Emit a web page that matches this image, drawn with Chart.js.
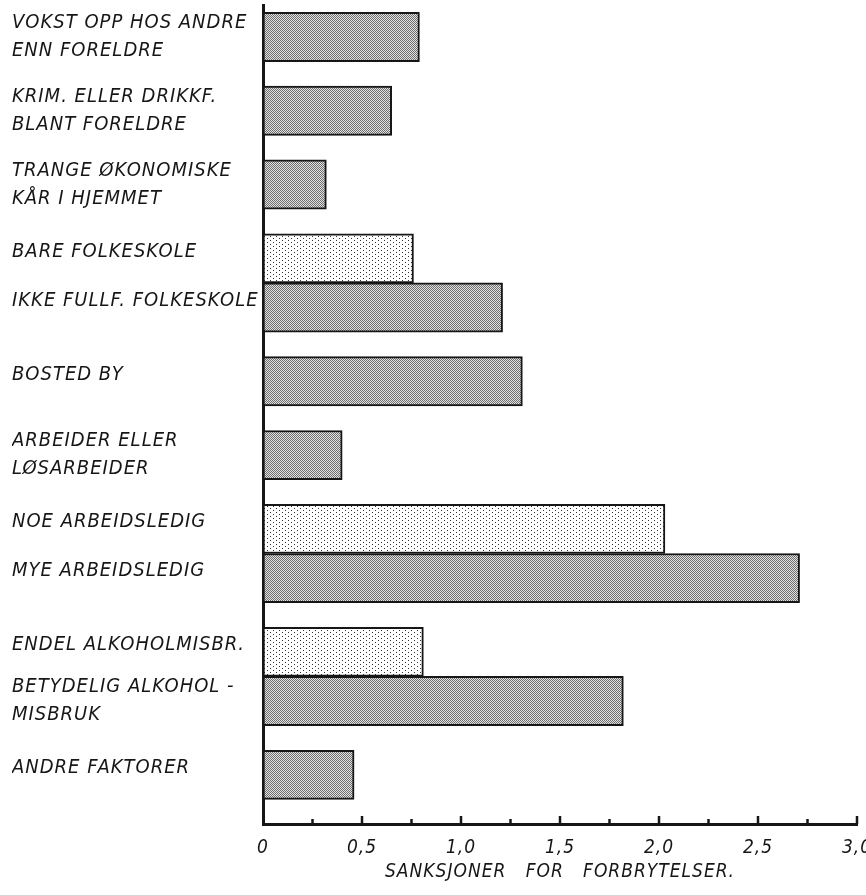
<!DOCTYPE html>
<html>
<head>
<meta charset="utf-8">
<script src="https://cdn.jsdelivr.net/npm/chart.js@4/dist/chart.umd.min.js"></script>
<style>
  html, body { margin: 0; padding: 0; background: #fff; }
  #wrap { width: 866px; height: 895px; }
</style>
</head>
<body>
<div id="wrap"><canvas id="sanksjonChart"></canvas></div>
<script>
// faktorer (\n = linjeskift i etiketten)
var factorLabels = [
    "VOKST OPP HOS ANDRE\nENN FORELDRE",
    "KRIM. ELLER DRIKKF.\nBLANT FORELDRE",
    "TRANGE ØKONOMISKE\nKÅR I HJEMMET",
    "BARE FOLKESKOLE",
    "IKKE FULLF. FOLKESKOLE",
    "BOSTED BY",
    "ARBEIDER ELLER\nLØSARBEIDER",
    "NOE ARBEIDSLEDIG",
    "MYE ARBEIDSLEDIG",
    "ENDEL ALKOHOLMISBR.",
    "BETYDELIG ALKOHOL -\nMISBRUK",
    "ANDRE FAKTORER"
];
// faktorer med to nivåer har samme gruppe
var factorGroup = [1, 2, 3, 4, 4, 5, 6, 7, 7, 8, 8, 9];
var sanctions = [0.79, 0.65, 0.32, 0.76, 1.21, 1.31, 0.40, 2.03, 2.71, 0.81, 1.82, 0.46];
var xTicks = [0, 0.5, 1.0, 1.5, 2.0, 2.5, 3.0];
var axisTitle = "SANKSJONER   FOR   FORBRYTELSER.";

var ink = '#161616';
var font = '"DejaVu Sans Condensed", "DejaVu Sans", sans-serif';

// plassering på y-aksen: to halve enheter per stolpe, en ekstra mellom grupper
var barPos = [];
var p = 0;
for (i = 0; i < factorGroup.length; i++) {
    if (i > 0)
        p += (factorGroup[i] === factorGroup[i - 1]) ? 2 : 3;
    barPos.push(p);
}

var canvas = document.getElementById("sanksjonChart");
var ctx = canvas.getContext('2d');

// raster for stolpene
function makePattern(w, h, bg, fg, dots) {
    var c = document.createElement('canvas');
    c.width = w;
    c.height = h;
    var g = c.getContext('2d');
    g.fillStyle = bg;
    g.fillRect(0, 0, w, h);
    g.fillStyle = fg;
    dots.forEach(function (d) { g.fillRect(d[0], d[1], 1, 1); });
    return ctx.createPattern(c, 'repeat');
}
var darkFill = makePattern(2, 2, '#e2e2e2', '#6e6e6e', [[0, 0], [1, 1]]);
var dotFill = makePattern(6, 4, '#ffffff', '#333333', [[0, 0], [3, 2]]);

var isFirstOfPair = function (i) { return factorGroup[i + 1] === factorGroup[i]; };

var upTicks = {
    id: 'upTicks',
    afterDraw: function (chart) {
        var xs = chart.scales.x;
        var c = chart.ctx;
        var y0 = chart.chartArea.bottom;
        c.save();
        c.strokeStyle = ink;
        c.lineWidth = 2.5;
        xs.ticks.forEach(function (t) {
            if (t.value === 0) return;
            var x = xs.getPixelForValue(t.value);
            var len = xTicks.indexOf(t.value) >= 0 ? 8 : 5;
            c.beginPath();
            c.moveTo(x, y0);
            c.lineTo(x, y0 - len);
            c.stroke();
        });
        c.restore();
    }
};

var spacing = {
    id: 'spacing',
    beforeDraw: function (chart) { chart.ctx.letterSpacing = '1px'; }
};

var sanksjonChart = new Chart(ctx, {
    type: 'bar',
    data: {
        datasets: [{
            data: sanctions.map(function (v, i) { return { x: v, y: barPos[i] }; }),
            backgroundColor: factorGroup.map(function (g, i) { return isFirstOfPair(i) ? dotFill : darkFill; }),
            borderColor: ink,
            borderWidth: 2,
            borderSkipped: false,
            barPercentage: 1,
            categoryPercentage: 1
        }]
    },
    options: {
        indexAxis: 'y',
        responsive: true,
        maintainAspectRatio: false,
        animation: false,
        events: [],
        layout: { padding: { left: 12, right: 9, top: 5, bottom: 0 } },
        plugins: {
            legend: { display: false },
            tooltip: { enabled: false }
        },
        scales: {
            x: {
                type: 'linear',
                min: 0,
                max: 3,
                grid: { display: false },
                border: { display: true, color: ink, width: 3 },
                ticks: {
                    stepSize: 0.25,
                    autoSkip: false,
                    maxRotation: 0,
                    padding: 5,
                    color: ink,
                    font: { family: font, style: 'italic', size: 19 },
                    callback: function (v) {
                        if (xTicks.indexOf(v) < 0) return '';
                        return v === 0 ? '0' : v.toFixed(1).replace('.', ',');
                    }
                },
                title: {
                    display: true,
                    text: axisTitle,
                    color: ink,
                    font: { family: font, style: 'italic', size: 19 },
                    padding: { top: 0, bottom: 12 }
                },
                afterFit: function (scale) {
                    scale.height = 71;
                    scale.paddingLeft = 0;
                    scale.paddingRight = 0;
                }
            },
            y: {
                type: 'linear',
                reverse: true,
                offset: false,
                min: -1.3,
                max: 32,
                grid: { display: false },
                border: { display: true, color: ink, width: 3 },
                afterBuildTicks: function (scale) {
                    scale.ticks = barPos.map(function (v) { return { value: v }; });
                },
                ticks: {
                    autoSkip: false,
                    crossAlign: 'far',
                    color: ink,
                    font: function (c) {
                        var single = c.index !== undefined && factorLabels[c.index] && factorLabels[c.index].indexOf('\n') < 0;
                        return { family: font, style: 'italic', size: 20, lineHeight: single ? 0.7 : 1.4 };
                    },
                    callback: function (v) {
                        var i = barPos.indexOf(v);
                        if (i < 0) return '';
                        var lines = factorLabels[i].split('\n');
                        if (lines.length === 1) lines.push('');
                        return lines;
                    }
                },
                afterFit: function (scale) {
                    scale.width = 251;
                    scale.paddingTop = 0;
                    scale.paddingBottom = 0;
                }
            }
        }
    },
    plugins: [upTicks, spacing]
});
</script>
</body>
</html>
